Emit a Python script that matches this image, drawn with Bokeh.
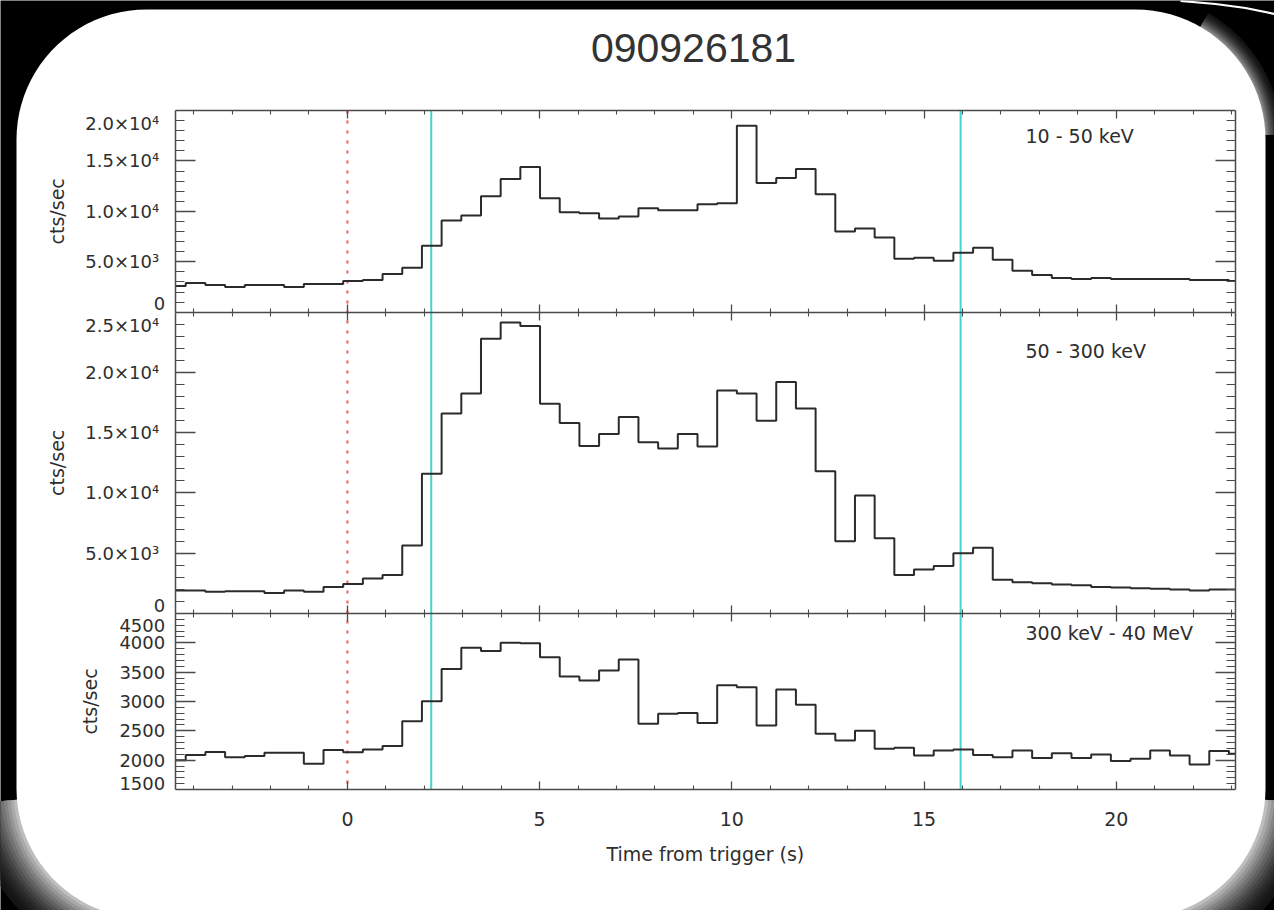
import numpy as np
from bokeh.plotting import figure
from bokeh.models import Range1d, LinearAxis, FixedTicker, Label, CustomJSTickFormatter
from bokeh.embed import file_html
from bokeh.resources import INLINE

# ---------------- data ----------------
burst_name = "090926181"
band_names = ["10 - 50 keV", "50 - 300 keV", "300 keV - 40 MeV"]
y_title = "cts/sec"
x_title = "Time from trigger (s)"

bin_width = 0.512          # s
first_bin_start = -4.718   # s

rate_10_50 = [2600, 2900, 2700, 2500, 2700, 2700, 2500, 2800, 2800,
              3100, 3200, 3800, 4400, 6600, 9100, 9600, 11500, 13200, 14400,
              11300, 9900, 9800, 9300, 9500, 10300, 10100, 10100, 10700, 10800,
              18500, 12800, 13300, 14200, 11700, 8000, 8300, 7400, 5300, 5400,
              5100, 5900, 6400, 5200, 4100, 3700, 3400, 3300, 3400, 3300,
              3300, 3300, 3300, 3200, 3200, 3100]
rate_50_300 = [1900, 1900, 1800, 1850, 1850, 1700, 1900, 1800, 2200,
               2450, 2900, 3200, 5650, 11600, 16600, 18250, 22800, 24150, 23850,
               17400, 15800, 13900, 14900, 16300, 14200, 13700, 14900, 13850, 18500,
               18250, 16000, 19200, 17000, 11800, 6000, 9800, 6250, 3200, 3650,
               3950, 5000, 5450, 2800, 2600, 2500, 2400, 2350, 2200, 2150,
               2100, 2050, 2000, 1900, 2000, 2000]
rate_300_40000 = [2000, 2090, 2140, 2050, 2070, 2125, 2125, 1940, 2175,
                  2135, 2180, 2240, 2665, 3005, 3555, 3915, 3860, 4000, 3995,
                  3755, 3425, 3360, 3530, 3715, 2620, 2790, 2805, 2635, 3275,
                  3245, 2590, 3205, 2945, 2450, 2335, 2500, 2195, 2210, 2080,
                  2165, 2180, 2090, 2050, 2165, 2035, 2120, 2035, 2095, 1985,
                  2025, 2165, 2080, 1925, 2155, 2110]

trigger_time = 0.0
interval_times = [2.18, 15.95]

time_min, time_max = -4.48, 23.1
x_ticks = [0, 5, 10, 15, 20]
x_tick_labels = ["0", "5", "10", "15", "20"]

y1_range = (0, 20000)
y1_ticks = [5000, 10000, 15000]
y1_labels = ["5.0×10³", "1.0×10⁴", "1.5×10⁴"]
y1_edge_labels = ["0", "2.0×10⁴"]

y2_range = (0, 25000)
y2_ticks = [5000, 10000, 15000, 20000]
y2_labels = ["5.0×10³", "1.0×10⁴", "1.5×10⁴", "2.0×10⁴"]
y2_edge_labels = ["0", "2.5×10⁴"]

y3_range = (1500, 4500)
y3_ticks = [2000, 2500, 3000, 3500, 4000]
y3_labels = ["2000", "2500", "3000", "3500", "4000"]
y3_edge_labels = ["1500", "4500"]

# ---------------- layout (pixels of the 1274x910 picture) ----------------
W, H = 1274, 910
PX_L, PX_R, PX_T, PX_B = 0, W, 0, H
BOX_L, BOX_R = 174.7, 1235.0
BOX_T, SEP1, SEP2, BOX_B = 110.0, 311.7, 613.0, 789.0

FONT = "DejaVu Sans"
INK = "#2e2e2e"
FRAME = "#4a4a4a"

kx = (BOX_R - BOX_L) / (time_max - time_min)
x_range = Range1d(time_min - (BOX_L - PX_L) / kx, time_max + (PX_R - BOX_R) / kx)


def band_range(lo, hi, top_px, bot_px):
    u = (hi - lo) / (bot_px - top_px)
    return Range1d(lo - (PX_B - bot_px) * u, hi + (top_px - PX_T) * u)


p = figure(width=W, height=H, x_range=x_range, y_range=Range1d(PX_B, PX_T),
           output_backend="svg", toolbar_location=None, tools="",
           x_axis_location=None, y_axis_location=None, min_border=0)
p.background_fill_color = "black"
p.border_fill_color = "black"
p.outline_line_color = None
p.xgrid.visible = False
p.ygrid.visible = False
p.extra_x_ranges = {"px": Range1d(PX_L, PX_R)}
p.extra_y_ranges = {
    "p1": band_range(*y1_range, BOX_T, SEP1),
    "p2": band_range(*y2_range, SEP1, SEP2),
    "p3": band_range(*y3_range, SEP2, BOX_B),
}

# ---------------- slide card ----------------
CARD_L, CARD_T, CARD_R, CARD_B, RAD = 16, 9, 1265, 918, 130


def arc(cx, cy, r, a0, a1, n=30):
    ang = np.radians(np.linspace(a0, a1, n))
    return list(cx + r * np.cos(ang)), list(cy + r * np.sin(ang))


# soft grey shading around some corners (page-curl look)
glow_specs = [(CARD_L + RAD, CARD_B - RAD, 95, 175, 46, 170),
              (CARD_R - RAD, CARD_B - RAD, 5, 85, 46, 170),
              (CARD_R - RAD, CARD_T + RAD, -60, -2, 16, 120)]
glow_steps = 14
for ccx, ccy, a0, a1, dmax, gmax in glow_specs:
    for i in range(glow_steps):
        d = dmax * (1 - i / glow_steps)
        g = int(20 + gmax * (i / (glow_steps - 1)) ** 1.6)
        col = "#%02x%02x%02x" % (g, g, g)
        ax_, ay_ = arc(ccx, ccy, RAD + d, a0, a1)
        p.patch([ccx] + ax_, [ccy] + ay_, x_range_name="px", fill_color=col, line_color=None)

card_x, card_y = [], []
for ccx, ccy, a0 in [(CARD_R - RAD, CARD_T + RAD, -90), (CARD_R - RAD, CARD_B - RAD, 0),
                     (CARD_L + RAD, CARD_B - RAD, 90), (CARD_L + RAD, CARD_T + RAD, 180)]:
    ax_, ay_ = arc(ccx, ccy, RAD, a0, a0 + 90, 24)
    card_x += ax_
    card_y += ay_
p.patch(card_x, card_y, x_range_name="px", fill_color="white", line_color=None)

# thin white curl line at the top-right corner
p.line([1180, 1215, 1245, 1274], [0.5, 3.5, 7.5, 13.5], x_range_name="px",
       line_color="white", line_width=2.2)

# ---------------- trigger and interval markers ----------------
p.segment(x0=[trigger_time], y0=[BOX_T], x1=[trigger_time], y1=[BOX_B],
          line_color="#f06a6a", line_width=2.2, line_dash="3 7")
p.segment(x0=interval_times, y0=[BOX_T] * 2, x1=interval_times, y1=[BOX_B] * 2,
          line_color="#45d4cf", line_width=2)

# ---------------- light curves ----------------
edges = np.clip(first_bin_start + bin_width * np.arange(len(rate_10_50) + 1), time_min, time_max)
for name, rates in [("p1", rate_10_50), ("p2", rate_50_300), ("p3", rate_300_40000)]:
    p.step(edges, list(rates) + [rates[-1]], mode="after", y_range_name=name,
           line_color="#2b2b2b", line_width=2)


def style(ax, major_in, minor_in, major_out=0, minor_out=0):
    ax.axis_line_color = FRAME
    ax.axis_line_width = 1.5
    ax.major_tick_line_color = FRAME
    ax.minor_tick_line_color = FRAME
    ax.major_tick_line_width = 1.3
    ax.minor_tick_line_width = 1.1
    ax.major_tick_in = major_in
    ax.major_tick_out = major_out
    ax.minor_tick_in = minor_in
    ax.minor_tick_out = minor_out
    ax.major_label_text_font = FONT
    ax.major_label_text_color = INK
    ax.major_label_text_font_size = "18px"


blank = CustomJSTickFormatter(code="return ''")

# y axes (left labelled, right tick-only)
y_specs = [("p1", y1_range, y1_ticks, y1_labels, 1000, 16),
           ("p2", y2_range, y2_ticks, y2_labels, 1000, 16),
           ("p3", y3_range, y3_ticks, y3_labels, 100, 10)]
for name, (lo, hi), ticks, labels, minor_step, standoff in y_specs:
    minors = [float(v) for v in np.arange(lo + minor_step, hi, minor_step) if v not in ticks]
    for side, loc in (("left", time_min), ("right", time_max)):
        ax = LinearAxis(y_range_name=name, fixed_location=loc, bounds=(lo, hi),
                        ticker=FixedTicker(ticks=ticks, minor_ticks=minors))
        style(ax, 20, 9)
        if side == "left":
            ax.major_label_overrides = dict(zip(ticks, labels))
            ax.major_label_standoff = standoff
        else:
            ax.formatter = blank
        p.add_layout(ax, side)

# x axes: top, two separators, bottom
x_minors = [float(v) for v in range(-4, 24) if v not in x_ticks]
x_specs = [("p1", y1_range[1], "above", 8, 4, 0, 0),
           ("p1", y1_range[0], "below", 8, 4, 8, 4),
           ("p2", y2_range[0], "below", 8, 4, 8, 4),
           ("p3", y3_range[0], "below", 8, 4, 0, 0)]
for i, (name, loc, side, mi, mn, mo, mno) in enumerate(x_specs):
    ax = LinearAxis(y_range_name=name, fixed_location=loc, bounds=(time_min, time_max),
                    ticker=FixedTicker(ticks=x_ticks, minor_ticks=x_minors))
    style(ax, mi, mn, mo, mno)
    if i == len(x_specs) - 1:
        ax.major_label_overrides = dict(zip(x_ticks, x_tick_labels))
        ax.major_label_standoff = 22
        ax.major_label_text_font_size = "19px"
    else:
        ax.formatter = blank
    p.add_layout(ax, side)

# edge tick labels (IDL style, nudged inside the panel)
edge_specs = [(y1_edge_labels, 302.5, 122.5, 16),
              (y2_edge_labels, 605.0, 325.0, 16),
              (y3_edge_labels, 783.0, 625.0, 10)]
for (lo_txt, hi_txt), y_lo, y_hi, off in edge_specs:
    p.add_layout(Label(x=BOX_L - 10, y=y_lo, x_range_name="px", text=lo_txt,
                       text_font=FONT, text_font_size="18px", text_color=INK,
                       text_align="right", text_baseline="middle"))
    p.add_layout(Label(x=BOX_L - off, y=y_hi, x_range_name="px", text=hi_txt,
                       text_font=FONT, text_font_size="18px", text_color=INK,
                       text_align="right", text_baseline="middle"))

# y titles
for xc, yc in [(56, (BOX_T + SEP1) / 2), (56, (SEP1 + SEP2) / 2), (89, (SEP2 + BOX_B) / 2)]:
    p.add_layout(Label(x=xc, y=yc, x_range_name="px", text=y_title, angle=np.pi / 2,
                       text_font=FONT, text_font_size="19px", text_color=INK,
                       text_align="center", text_baseline="middle"))

# x title
p.add_layout(Label(x=(BOX_L + BOX_R) / 2, y=853, x_range_name="px", text=x_title,
                   text_font=FONT, text_font_size="19px", text_color=INK,
                   text_align="center", text_baseline="middle"))

# band labels
for txt, yc in zip(band_names, [135, 350, 632]):
    p.add_layout(Label(x=1025, y=yc, x_range_name="px", text=txt,
                       text_font=FONT, text_font_size="19px", text_color=INK,
                       text_align="left", text_baseline="middle"))

# title
p.add_layout(Label(x=693, y=47, x_range_name="px", text=burst_name,
                   text_font="Liberation Sans", text_font_size="41px", text_color="#333333",
                   text_align="center", text_baseline="middle"))

open("out.html", "w").write(file_html(p, INLINE))
